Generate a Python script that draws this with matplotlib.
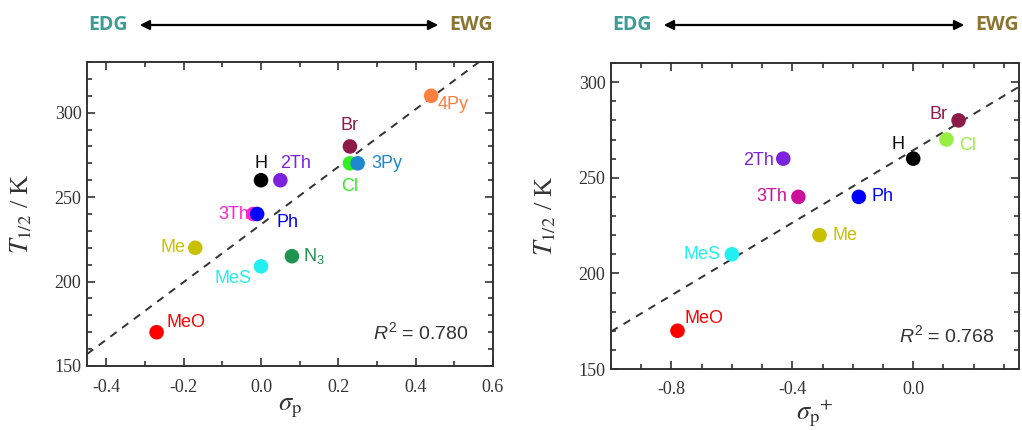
import numpy as np
import matplotlib
matplotlib.use('Agg')
import matplotlib.pyplot as plt
from matplotlib.ticker import MultipleLocator

plt.rcParams['font.family'] = 'Liberation Serif'
plt.rcParams['mathtext.fontset'] = 'custom'
plt.rcParams['mathtext.rm'] = 'Liberation Sans'
plt.rcParams['mathtext.it'] = 'Liberation Sans:italic'

# sigma_p panel (left)
names_p = ['MeO', 'Me', 'MeS', 'N$_3$', '3Th', 'Ph', 'H', '2Th', 'Cl', '3Py', 'Br', '4Py']
sigma_p = [-0.27, -0.17, 0.00, 0.08, -0.02, -0.01, 0.00, 0.05, 0.23, 0.25, 0.23, 0.44]
t_half_p = [170, 220, 209, 215, 240, 240, 260, 260, 270, 270, 280, 310]
colors_p = ['#ff0000', '#c8c000', '#22f0f0', '#1e9450', '#ff22cc', '#0000ff',
            '#000000', '#7b22dd', '#33ee22', '#1e88d0', '#8e1a48', '#ff8040']
r2_p = '0.780'

# sigma_p+ panel (right)
names_pp = ['MeO', 'MeS', 'Me', '3Th', '2Th', 'Ph', 'H', 'Cl', 'Br']
sigma_pp = [-0.78, -0.60, -0.31, -0.38, -0.43, -0.18, 0.00, 0.11, 0.15]
t_half_pp = [170, 210, 220, 240, 260, 240, 260, 270, 280]
colors_pp = ['#ff0000', '#22f0f0', '#c8c000', '#cc1199', '#7b22dd', '#0000ff',
             '#000000', '#99ee44', '#8e1a48']
r2_pp = '0.768'

# label offsets (points) and alignment
offs_p = {'MeO': (7, 7, 'left'), 'Me': (-7, 0, 'right'), 'MeS': (-7, -9, 'right'),
          'N$_3$': (8, 0, 'left'), '3Th': (-3, 0, 'right'), 'Ph': (14, -6, 'left'),
          'H': (0, 12, 'center'), '2Th': (0, 12, 'left'), 'Cl': (0, -17, 'center'),
          '3Py': (10, 0, 'left'), 'Br': (0, 15, 'center'), '4Py': (5, -6, 'left')}
offs_pp = {'MeO': (5, 9, 'left'), 'MeS': (-8, 0, 'right'), 'Me': (9, 0, 'left'),
           '3Th': (-8, 0, 'right'), '2Th': (-7, -1, 'right'), 'Ph': (9, 0, 'left'),
           'H': (-6, 10, 'right'), 'Cl': (9, -4, 'left'), 'Br': (-8, 4, 'right')}

fig = plt.figure(figsize=(10.22, 4.30), dpi=100)
ax1 = fig.add_axes([87/1022, 64/430, 406/1022, 304/430])
ax2 = fig.add_axes([611/1022, 61/430, 408/1022, 306/430])


def draw(ax, xs, ys, names, cols, offs, r2, xlim, ylim, xmaj, xlabel, xlab_y):
    ax.set_xlim(*xlim)
    ax.set_ylim(*ylim)
    k, b = np.polyfit(xs, ys, 1)
    xx = np.array(xlim)
    ax.plot(xx, k * xx + b, ls=(0, (4, 3.5)), color='#333333', lw=1.4, zorder=1)
    ax.scatter(xs, ys, s=110, c=cols, zorder=3, linewidths=0)
    for x, y, n, c in zip(xs, ys, names, cols):
        dx, dy, ha = offs[n]
        ax.annotate(n, (x, y), xytext=(dx, dy), textcoords='offset points',
                    ha=ha, va='center', color=c, fontsize=13,
                    family='Liberation Sans')
    ax.text(0.94, 0.11, '$R^2$ = ' + r2, transform=ax.transAxes, ha='right',
            va='center', fontsize=14, family='Liberation Sans', color='#333333')
    ax.xaxis.set_major_locator(MultipleLocator(xmaj))
    ax.xaxis.set_minor_locator(MultipleLocator(0.1))
    ax.yaxis.set_major_locator(MultipleLocator(50))
    ax.yaxis.set_minor_locator(MultipleLocator(10))
    ax.tick_params(which='both', direction='in', top=True, right=True,
                   color='#333333', width=1.2)
    ax.tick_params(which='major', length=6, labelsize=13, labelcolor='#333333')
    ax.tick_params(which='minor', length=3.5)
    ax.tick_params(axis='x', which='major', pad=9)
    ax.tick_params(axis='y', which='major', pad=4)
    ax.xaxis.set_major_formatter(lambda v, p: '%.1f' % v)
    for s in ax.spines.values():
        s.set_color('#333333')
        s.set_linewidth(1.4)
    ax.set_ylabel(r'$T_{1/2}$ / K', fontsize=19, math_fontfamily='stix',
                  color='#333333')
    ax.yaxis.set_label_coords(-0.13, 0.5)
    ax.set_xlabel(xlabel, fontsize=19, math_fontfamily='stix', color='#333333')
    ax.xaxis.set_label_coords(0.5, xlab_y)
    # EDG / EWG header
    x0, y0, w, h = ax.get_position().bounds
    ytop = 1 - 25/430
    fig.text(x0 + 0.001, ytop, 'EDG', ha='left', va='center', fontsize=14,
             weight='bold', family='Open Sans', color='#3c9d96')
    fig.text(x0 + w, ytop, 'EWG', ha='right', va='center', fontsize=14,
             weight='bold', family='Open Sans', color='#8a7431')
    fig.add_artist(matplotlib.patches.FancyArrowPatch(
        (x0 + 50/1022, ytop), (x0 + w - 52/1022, ytop),
        transform=fig.transFigure, arrowstyle='<|-|>', mutation_scale=14,
        color='black', lw=1.6))


draw(ax1, sigma_p, t_half_p, names_p, colors_p, offs_p, r2_p,
     (-0.45, 0.6), (150, 330), 0.2, r'$\sigma_{\mathrm{p}}$', -0.1)
draw(ax2, sigma_pp, t_half_pp, names_pp, colors_pp, offs_pp, r2_pp,
     (-1.0, 0.35), (150, 310), 0.4, r'$\sigma_{\mathrm{p}}{}^{+}$', -0.092)

plt.savefig('out.png', dpi=100)
